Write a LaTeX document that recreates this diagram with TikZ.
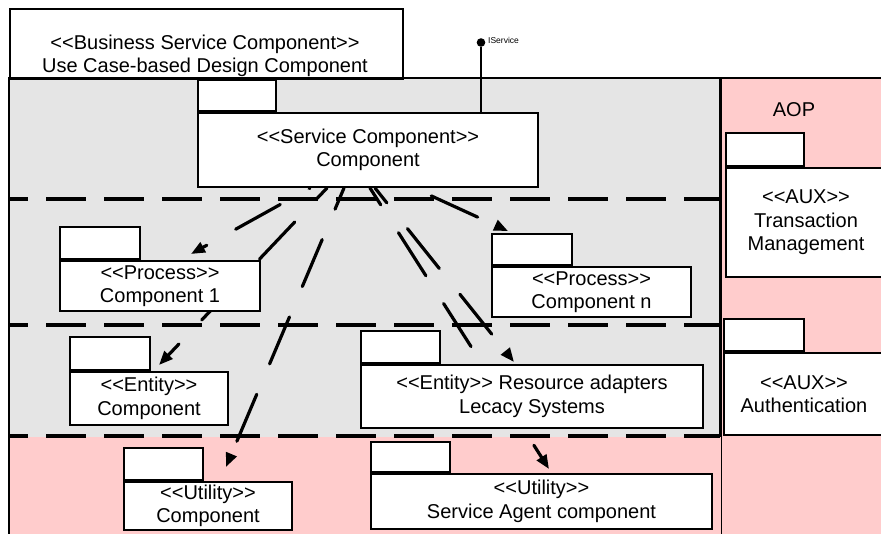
\documentclass[tikz,border=0pt]{standalone}
\usepackage{fontspec}
\setmainfont{Liberation Sans}
\usetikzlibrary{arrows.meta}

\definecolor{laygray}{RGB}{229,229,229}
\definecolor{aoppink}{RGB}{255,204,204}

% stereotype brackets, kept apart so they are not turned into guillemets
\newcommand\stereo[1]{<\kern0pt<#1>\kern0pt>}

\pgfdeclarelayer{bg}
\pgfdeclarelayer{mid}
\pgfsetlayers{bg,mid,main}

\tikzset{
  txt/.style={font=\fontsize{20}{23.5}\selectfont},
  body/.style={draw, fill=white, line width=2pt, inner sep=0pt, align=center, txt},
  tabbox/.style={draw, fill=white, line width=2pt, inner sep=0pt, anchor=south west},
  lbl/.style={inner sep=0pt, align=center, txt},
  layerline/.style={line width=3.2pt, dash pattern=on 40pt off 18pt, dash phase=21pt},
  frame/.style={line width=2.7pt},
  dep/.style={line width=3.2pt, line cap=round, dash pattern=on 51pt off 33pt,
              -{Triangle[length=14pt,width=11pt]}},
}

\begin{document}
\begin{tikzpicture}[x=1pt,y=-1pt]
\useasboundingbox (0,0) rectangle (881,534);

% ---- layers of the business component ----
\begin{pgfonlayer}{bg}
  \fill[laygray] (9,78) rectangle (720,437);
  \fill[aoppink] (9,437) rectangle (720,534);
  \fill[aoppink] (720,78) rectangle (881,534);
  \draw[layerline] (9,199) -- (720,199);
  \draw[layerline] (9,325) -- (720,325);
  \draw[layerline] (9,436) -- (720,436);
  \draw[frame] (9,534) -- (9,78) -- (881,78);
  \draw[frame] (720.5,78) -- (720.5,437);
  \draw[line width=0.8pt] (721.5,437) -- (721.5,534);
\end{pgfonlayer}

% ---- title box ----
\node[draw, line width=2pt, minimum width=393pt, minimum height=70pt,
      anchor=north west, inner sep=0pt] (biz) at (9,8) {};
\node[lbl] (biztext) at (205,56) {\stereo{Business Service Component}\\Use Case-based Design Component};

% ---- service component with its interface ----
\node[body, minimum width=340pt, minimum height=74pt] (svc) at (368,150)
  {\stereo{Service Component}\\Component};
\node[tabbox, minimum width=78pt, minimum height=31pt] (svctab) at (svc.north west) {};
\node[circle, fill=black, inner sep=0pt, minimum size=8.6pt] (iface) at (481,42.5) {};
\draw[line width=2.8pt] (iface) -- (iface |- svc.north);
\node[inner sep=0pt, anchor=west, font=\fontsize{8.5}{10}\selectfont] (ilbl) at (488,40) {IService};

% ---- process layer ----
\node[body, minimum width=200pt, minimum height=50pt] (p1) at (160,286)
  {\stereo{Process}\\Component 1};
\node[tabbox, minimum width=80pt, minimum height=32pt] (p1tab) at (p1.north west) {};
\node[body, minimum width=199pt, minimum height=50pt] (pn) at (591.5,292)
  {\stereo{Process}\\Component n};
\node[tabbox, minimum width=80pt, minimum height=31pt] (pntab) at (pn.north west) {};

% ---- entity layer ----
\node[body, minimum width=158pt, minimum height=53pt] (e1) at (149,398.5)
  {\stereo{Entity}\\Component};
\node[tabbox, minimum width=80pt, minimum height=33pt] (e1tab) at (e1.north west) {};
\node[body, minimum width=342pt, minimum height=63pt] (era) at (532,396.5)
  {\stereo{Entity} Resource adapters\\Lecacy Systems};
\node[tabbox, minimum width=79pt, minimum height=32pt] (eratab) at (era.north west) {};

% ---- utility layer ----
\node[body, minimum width=168pt, minimum height=48pt] (u1) at (208,506)
  {\stereo{Utility}\\Component};
\node[tabbox, minimum width=79pt, minimum height=32pt] (u1tab) at (u1.north west) {};
\node[body, minimum width=341pt, minimum height=55pt] (usa) at (541.5,501.5)
  {\stereo{Utility}\\Service Agent component};
\node[tabbox, minimum width=79pt, minimum height=30pt] (usatab) at (usa.north west) {};

% ---- AOP column ----
\node[lbl] (aop) at (794,110) {AOP};
\node[body, minimum width=160pt, minimum height=109pt] (tm) at (806,222.5)
  {\stereo{AUX}\\Transaction\\Management};
\node[tabbox, minimum width=78pt, minimum height=33pt] (tmtab) at (tm.north west) {};
\node[body, minimum width=160pt, minimum height=82pt] (auth) at (804,394)
  {\stereo{AUX}\\Authentication};
\node[tabbox, minimum width=80pt, minimum height=32pt] (authtab) at (auth.north west) {};

% ---- dependencies, drawn beneath the packages ----
\begin{pgfonlayer}{mid}
  \draw[dep, dash phase=50pt] ([xshift=113pt]svc.south west) -- ([xshift=132pt,yshift=6pt]p1.north west);
  \draw[dep, dash phase=37pt] ([xshift=130pt]svc.south west) -- ([xshift=90pt,yshift=6pt]e1.north west);
  \draw[dep, dash phase=28pt] ([xshift=147pt]svc.south west) -- ([xshift=103pt,yshift=14pt]u1.north west);
  \draw[dep, dash phase=32pt] ([xshift=178pt]svc.south west) -- ([xshift=154pt,yshift=2pt]era.north west);
  \draw[dep, dash phase=31pt] ([xshift=173pt]svc.south west) -- ([xshift=179pt,yshift=4pt]usa.north west);
  \draw[dep, dash phase=65pt] ([xshift=217pt]svc.south west) -- ([xshift=17pt,yshift=2pt]pntab.north west);
\end{pgfonlayer}
\end{tikzpicture}
\end{document}
